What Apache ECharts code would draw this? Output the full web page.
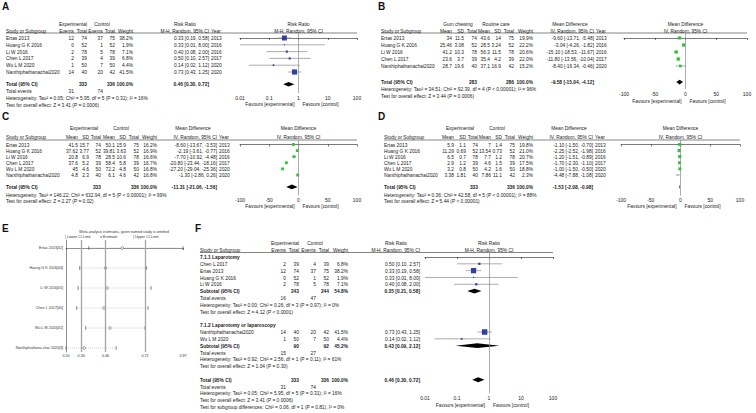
<!DOCTYPE html>
<html><head><meta charset="utf-8">
<script src="https://cdn.jsdelivr.net/npm/echarts@6.0.0/dist/echarts.min.js"></script>
<style>html,body{margin:0;padding:0;background:#fff}#c{width:756px;height:413px}</style>
</head><body><div id="c"></div>
<script>
// ================= DATA =================
// Panel A (risk ratio)
const aStudy = ['Ertas 2013','Huang G K 2016','Li W 2016','Chen L 2017','Wu L M 2020','Nanthiphathanachai2020'];
const aExpEvents = [12,0,2,2,1,14];
const aExpTotal = [74,52,78,39,50,40];
const aCtlEvents = [37,1,5,4,7,20];
const aCtlTotal = [75,52,78,39,50,42];
const aWeight = [38.2,1.9,7.1,6.8,4.4,41.5];
const aRR = [0.33,0.33,0.40,0.50,0.14,0.73];
const aLow = [0.19,0.01,0.08,0.10,0.02,0.43];
const aHigh = [0.58,8.00,2.00,2.57,1.12,1.25];
const aYear = [2013,2016,2016,2017,2020,2020];
const aTotals = [333,336];
const aTotalEvents = [31,74];
const aPooled = [0.46,0.30,0.72];
const aHet = 'Heterogeneity: Tau² = 0.05; Chi² = 5.95, df = 5 (P = 0.31); I² = 16%';
const aTest = 'Test for overall effect: Z = 3.41 (P = 0.0006)';
const rrTicks = ['0.01','0.1','1','10','100'];

// Panel B (mean difference, gum chewing vs routine care)
const bStudy = ['Ertas 2013','Huang G K 2016','Li W 2016','Chen L 2017','Nanthiphathanachai2020'];
const bMean1 = [34,25.46,41.2,23.6,28.7];
const bSD1 = [11.5,3.08,10.3,3.7,19.6];
const bN1 = [74,52,78,39,40];
const bMean2 = [43.6,28.5,56.3,35.4,37.1];
const bSD2 = [14,3.24,11.5,4.2,16.9];
const bN2 = [75,52,78,39,42];
const bWeight = [19.9,22.2,20.6,22.0,15.2];
const bMD = [-9.60,-3.04,-15.10,-11.80,-8.40];
const bLow = [-13.71,-4.26,-18.53,-13.56,-16.34];
const bHigh = [-5.48,-1.82,-11.67,-10.04,-0.46];
const bYear = [2013,2016,2016,2017,2020];
const bTotals = [283,286];
const bPooled = [-9.58,-15.04,-4.12];
const bHet = 'Heterogeneity: Tau² = 34.51; Chi² = 92.39, df = 4 (P < 0.00001); I² = 96%';
const bTest = 'Test for overall effect: Z = 3.44 (P = 0.0006)';
const mdTicks = ['-100','-50','0','50','100'];

// Panel C
const cMean1 = [41.5,37.62,20.8,37.6,45,4.8];
const cSD1 = [15.7,3.77,6.9,5.2,4.6,2.3];
const cN1 = [74,52,78,39,50,40];
const cMean2 = [50.1,39.81,28.5,58.4,72.2,6.1];
const cSD2 = [15.9,3.63,10.6,5.8,4.8,4.6];
const cN2 = [75,52,78,39,50,42];
const cWeight = [16.2,16.9,16.6,16.7,16.8,16.8];
const cMD = [-8.60,-2.19,-7.70,-20.80,-27.20,-1.30];
const cLow = [-13.67,-3.61,-10.92,-23.44,-29.04,-2.86];
const cHigh = [-3.53,-0.77,-4.48,-18.16,-25.36,0.26];
const cTotals = [333,336];
const cPooled = [-11.31,-21.06,-1.56];
const cHet = 'Heterogeneity: Tau² = 146.22; Chi² = 632.94, df = 5 (P < 0.00001); I² = 99%';
const cTest = 'Test for overall effect: Z = 2.27 (P = 0.02)';

// Panel D
const dMean1 = [5.9,11.29,6.5,2.9,3.2,3.38];
const dSD1 = [1.1,0.69,0.7,1.2,0.8,1.81];
const dN1 = [74,52,78,39,50,40];
const dMean2 = [7,13.54,7.7,4.6,4.2,7.86];
const dSD2 = [1.4,0.73,1.2,1.5,1.6,11.1];
const dN2 = [75,52,78,39,50,42];
const dWeight = [19.8,21.0,20.7,17.5,18.8,2.3];
const dMD = [-1.10,-2.25,-1.20,-1.70,-1.00,-4.48];
const dLow = [-1.50,-2.52,-1.51,-2.30,-1.50,-7.88];
const dHigh = [-0.70,-1.98,-0.89,-1.10,-0.50,-1.08];
const dTotals = [333,336];
const dPooled = [-1.53,-2.08,-0.98];
const dHet = 'Heterogeneity: Tau² = 0.36; Chi² = 42.58, df = 5 (P < 0.00001); I² = 88%';
const dTest = 'Test for overall effect: Z = 5.44 (P < 0.00001)';

// Panel E (leave-one-out sensitivity)
const eStudy = ['Ertas 2013[42]','Huang G K 2016[44]','Li W 2016[45]','Chen L 2017[40]','Wu L M 2020[41]','Nanthiphathana-chai 2020[3]'];
const eLow = [0.35,0.29,0.28,0.27,0.33,0.20];
const eEst = [0.57,0.46,0.47,0.45,0.49,0.32];
const eHigh = [0.97,0.73,0.76,0.74,0.72,0.53];
const ePooled = [0.30,0.46,0.72];
const eTicks = [0.20,0.30,0.46,0.72,0.97];

// Panel F (subgroups)
const f1Study = ['Chen L 2017','Ertas 2013','Huang G K 2016','Li W 2016'];
const f1ExpEvents = [2,12,0,2];
const f1ExpTotal = [39,74,52,78];
const f1CtlEvents = [4,37,1,5];
const f1CtlTotal = [39,75,52,78];
const f1Weight = [6.8,38.2,1.9,7.1];
const f1RR = [0.50,0.33,0.33,0.40];
const f1Low = [0.10,0.19,0.01,0.08];
const f1High = [2.57,0.58,8.00,2.00];
const f1Sub = [243,244,54.8];
const f1SubEvents = [16,47];
const f1Pooled = [0.35,0.21,0.58];
const f1Het = 'Heterogeneity: Tau² = 0.00; Chi² = 0.26, df = 3 (P = 0.97); I² = 0%';
const f1Test = 'Test for overall effect: Z = 4.12 (P < 0.0001)';
const f2Study = ['Nanthiphathanachai2020','Wu L M 2020'];
const f2ExpEvents = [14,1];
const f2ExpTotal = [40,50];
const f2CtlEvents = [20,7];
const f2CtlTotal = [42,50];
const f2Weight = [41.5,4.4];
const f2RR = [0.73,0.14];
const f2Low = [0.43,0.02];
const f2High = [1.25,1.12];
const f2Sub = [90,92,45.2];
const f2SubEvents = [15,27];
const f2Pooled = [0.43,0.09,2.12];
const f2Het = 'Heterogeneity: Tau² = 0.92; Chi² = 2.56, df = 1 (P = 0.11); I² = 61%';
const f2Test = 'Test for overall effect: Z = 1.04 (P = 0.30)';
const fTotals = [333,336];
const fTotalEvents = [31,74];
const fPooled = [0.46,0.30,0.72];
const fHet = 'Heterogeneity: Tau² = 0.05; Chi² = 5.95, df = 5 (P = 0.31); I² = 16%';
const fTest = 'Test for overall effect: Z = 3.41 (P = 0.0006)';
const fSubTest = 'Test for subgroup differences: Chi² = 0.06, df = 1 (P = 0.81), I² = 0%';

// ================= STYLE / LAYOUT =================
const FF = '"Liberation Sans", Arial, Helvetica, sans-serif';
const FS = 5.2, SX = 0.93, INK = '#1a1a1a', GREY = '#8a8a8a';
const BLUE = '#2f3fa6', GREEN = '#2fc23a';
const G = [];
function txt(x, y, s, o) {
  o = o || {};
  const al = o.align || 'left';
  G.push({type:'text', x:x, y:y, scaleX:(o.sx == null ? SX : o.sx), silent:true, z:20,
    style:{text:String(s), fill:o.color || INK, fontSize:o.size || FS, fontFamily:FF,
      fontWeight:o.bold ? 'bold' : 'normal', align:al, verticalAlign:'middle',
      textAlign:al, textVerticalAlign:'middle'}});
}
function hl(x1, x2, y, w, c) {
  G.push({type:'line', silent:true, z:5, shape:{x1:x1, y1:y, x2:x2, y2:y}, style:{stroke:c || '#333', lineWidth:w || 0.6}});
}
const f2 = v => v.toFixed(2);
const ciStr = (e, l, h) => f2(e) + ' [' + f2(l) + ', ' + f2(h) + ']';
const pct = v => v.toFixed(1) + '%';

const option = {animation:false, backgroundColor:'#fff', grid:[], xAxis:[], yAxis:[], series:[], graphic:{elements:G}};

function addForestGrid(L, xType) {
  const gi = option.grid.length;
  option.grid.push({left:L.plotL, top:L.lineY, width:L.plotW, height:L.axisY - L.lineY});
  const common = {gridIndex:gi, splitLine:{show:false},
    axisLine:{show:true, lineStyle:{color:'#222', width:0.6}},
    axisTick:{show:true, length:2, lineStyle:{color:'#222', width:0.6}},
    axisLabel:{fontSize:5, color:'#222', margin:L.labMargin || 2, fontFamily:FF}};
  if (xType === 'log') {
    option.xAxis.push(Object.assign({}, common, {type:'log', logBase:10, min:0.01, max:100,
      minorTick:{show:false},
      axisLabel:Object.assign({}, common.axisLabel, {formatter:v => rrTicks[Math.round(Math.log10(v)) + 2]})}));
  } else {
    option.xAxis.push(Object.assign({}, common, {type:'value', min:-100, max:100, interval:50,
      axisLabel:Object.assign({}, common.axisLabel, {formatter:v => mdTicks[Math.round(v / 50) + 2]})}));
  }
  option.yAxis.push({gridIndex:gi, type:'value', inverse:true, show:false,
    min:(L.lineY - L.y0) / L.step, max:(L.axisY - L.y0) / L.step});
  return gi;
}
function studySeries(gi, data, color, k, xmin, xmax, nullVal) {
  option.series.push({type:'custom', xAxisIndex:gi, yAxisIndex:gi, data:data, clip:false, silent:true,
    renderItem:function (p, api) {
      const r = api.value(3);
      const a = api.coord([Math.max(api.value(1), xmin), r]);
      const b = api.coord([Math.min(api.value(2), xmax), r]);
      const c = api.coord([api.value(0), r]);
      const s = Math.max(1, k * Math.sqrt(api.value(4)));
      return {type:'group', children:[
        {type:'line', shape:{x1:a[0], y1:a[1], x2:b[0], y2:b[1]}, style:{stroke:GREY, lineWidth:0.7}},
        {type:'rect', shape:{x:c[0] - s / 2, y:c[1] - s / 2, width:s, height:s}, style:{fill:color}}
      ]};
    },
    markLine:{silent:true, symbol:['none','none'], label:{show:false}, animation:false,
      lineStyle:{color:GREY, width:0.7, type:'solid'}, data:[{xAxis:nullVal}]}
  });
}
function diamondSeries(gi, data, h) {
  option.series.push({type:'custom', xAxisIndex:gi, yAxisIndex:gi, data:data, clip:false, silent:true,
    renderItem:function (p, api) {
      const r = api.value(3);
      const a = api.coord([api.value(1), r]), b = api.coord([api.value(2), r]), c = api.coord([api.value(0), r]);
      return {type:'polygon', shape:{points:[[a[0], c[1]], [c[0], c[1] - h], [b[0], c[1]], [c[0], c[1] + h]]}, style:{fill:'#000'}};
    }});
}
function plotHeaders(L, t1, t2, expLabel, ctlLabel) {
  const Y = r => L.y0 + r * L.step;
  const mid = L.plotL + L.plotW / 2;
  txt(mid, Y(L.rowHdr), t1, {align:'center'});
  txt(mid, Y(L.rowSub), t2, {align:'center'});
  hl(L.x0, L.plotL + L.plotW, L.lineY, 0.6);
  txt(mid - 4, L.axisY + L.favGap, expLabel, {align:'right'});
  txt(mid + 4, L.axisY + L.favGap, ctlLabel, {align:'left'});
}

// ---------- Panel letters
[['A',2,6],['B',378,6],['C',2,116],['D',378,116],['E',2,228],['F',195,228]].forEach(p => {
  txt(p[1], p[2], p[0], {size:10, bold:true, sx:1, color:'#111'});
});

// ---------- Panel A
const LA = {x0:6, y0:38, step:6.8, cEv:74, cN:87, cEv2:103, cN2:115, cW:133, cCI:209, cYr:211,
  hEx:73, hCt:102, hCI:185, rowHdr:-2.06, rowSub:-1.1, rowTotal:6.8, rowTE:7.8, rowHet:8.8, rowTest:9.8,
  lineY:33, axisY:93, plotL:240, plotW:117, favGap:10.5};
(function () {
  const L = LA, Y = r => L.y0 + r * L.step;
  txt(L.hEx, Y(L.rowHdr), 'Experimental', {align:'center'});
  txt(L.hCt, Y(L.rowHdr), 'Control', {align:'center'});
  txt(L.hCI, Y(L.rowHdr), 'Risk Ratio', {align:'center'});
  const sub = [['Study or Subgroup',L.x0,'left'],['Events',L.cEv,'right'],['Total',L.cN,'right'],['Events',L.cEv2,'right'],
    ['Total',L.cN2,'right'],['Weight',L.cW,'right'],['M-H, Random, 95% CI',L.cCI,'right'],['Year',L.cYr,'left']];
  sub.forEach(s => txt(s[1], Y(L.rowSub), s[0], {align:s[2]}));
  aStudy.forEach((n, i) => {
    const y = Y(i);
    txt(L.x0, y, n);
    txt(L.cEv, y, aExpEvents[i], {align:'right'});
    txt(L.cN, y, aExpTotal[i], {align:'right'});
    txt(L.cEv2, y, aCtlEvents[i], {align:'right'});
    txt(L.cN2, y, aCtlTotal[i], {align:'right'});
    txt(L.cW, y, pct(aWeight[i]), {align:'right'});
    txt(L.cCI, y, ciStr(aRR[i], aLow[i], aHigh[i]), {align:'right'});
    txt(L.cYr, y, aYear[i]);
  });
  const yt = Y(L.rowTotal);
  txt(L.x0, yt, 'Total (95% CI)', {bold:true});
  txt(L.cN, yt, aTotals[0], {align:'right', bold:true});
  txt(L.cN2, yt, aTotals[1], {align:'right', bold:true});
  txt(L.cW, yt, '100.0%', {align:'right', bold:true});
  txt(L.cCI, yt, ciStr(aPooled[0], aPooled[1], aPooled[2]), {align:'right', bold:true});
  txt(L.x0, Y(L.rowTE), 'Total events');
  txt(L.cEv, Y(L.rowTE), aTotalEvents[0], {align:'right'});
  txt(L.cEv2, Y(L.rowTE), aTotalEvents[1], {align:'right'});
  txt(L.x0, Y(L.rowHet), aHet);
  txt(L.x0, Y(L.rowTest), aTest);
  plotHeaders(L, 'Risk Ratio', 'M-H, Random, 95% CI', 'Favours [experimental]', 'Favours [control]');
  const gi = addForestGrid(L, 'log');
  studySeries(gi, aRR.map((v, i) => [v, aLow[i], aHigh[i], i, aWeight[i]]), BLUE, 0.8, 0.01, 100, 1);
  diamondSeries(gi, [[aPooled[0], aPooled[1], aPooled[2], L.rowTotal]], 2.3);
})();

// ---------- continuous panels (B, C, D)
function contPanel(L, study, m1, s1, n1, m2, s2, n2, w, md, lo, hi, yr, totals, pooled, het, test, hdr) {
  const Y = r => L.y0 + r * L.step;
  txt(L.hEx, Y(L.rowHdr), hdr[0], {align:'center'});
  txt(L.hCt, Y(L.rowHdr), hdr[1], {align:'center'});
  txt(L.hCI, Y(L.rowHdr), 'Mean Difference', {align:'center'});
  const sub = [['Study or Subgroup',L.x0,'left'],['Mean',L.cM,'right'],['SD',L.cS,'right'],['Total',L.cN,'right'],
    ['Mean',L.cM2,'right'],['SD',L.cS2,'right'],['Total',L.cN2,'right'],['Weight',L.cW,'right'],
    ['IV, Random, 95% CI',L.cCI,'right'],['Year',L.cYr,'left']];
  sub.forEach(s => txt(s[1], Y(L.rowSub), s[0], {align:s[2]}));
  study.forEach((n, i) => {
    const y = Y(i);
    txt(L.x0, y, n);
    txt(L.cM, y, m1[i], {align:'right'});
    txt(L.cS, y, s1[i], {align:'right'});
    txt(L.cN, y, n1[i], {align:'right'});
    txt(L.cM2, y, m2[i], {align:'right'});
    txt(L.cS2, y, s2[i], {align:'right'});
    txt(L.cN2, y, n2[i], {align:'right'});
    txt(L.cW, y, pct(w[i]), {align:'right'});
    txt(L.cCI, y, ciStr(md[i], lo[i], hi[i]), {align:'right'});
    txt(L.cYr, y, yr[i]);
  });
  const yt = Y(L.rowTotal);
  txt(L.x0, yt, 'Total (95% CI)', {bold:true});
  txt(L.cN, yt, totals[0], {align:'right', bold:true});
  txt(L.cN2, yt, totals[1], {align:'right', bold:true});
  txt(L.cW, yt, '100.0%', {align:'right', bold:true});
  txt(L.cCI, yt, ciStr(pooled[0], pooled[1], pooled[2]), {align:'right', bold:true});
  txt(L.x0, Y(L.rowHet), het);
  txt(L.x0, Y(L.rowTest), test);
  plotHeaders(L, 'Mean Difference', 'IV, Random, 95% CI', 'Favours [experimental]', 'Favours [control]');
  const gi = addForestGrid(L, 'value');
  studySeries(gi, md.map((v, i) => [v, lo[i], hi[i], i, w[i]]), GREEN, 0.7, -100, 100, 0);
  diamondSeries(gi, [[pooled[0], pooled[1], pooled[2], L.rowTotal]], 2.3);
}
const LB = {x0:381, y0:38, step:7, cM:452, cS:464, cN:477, cM2:490, cS2:501, cN2:514, cW:533, cCI:594, cYr:596,
  hEx:458, hCt:496, hCI:570, rowHdr:-2, rowSub:-1.07, rowTotal:6.3, rowHet:7.3, rowTest:8.3,
  lineY:33, axisY:89, plotL:624, plotW:123, favGap:11.5, labMargin:2.5};
contPanel(LB, bStudy, bMean1, bSD1, bN1, bMean2, bSD2, bN2, bWeight, bMD, bLow, bHigh, bYear, bTotals, bPooled, bHet, bTest, ['Gum chewing','Routine care']);
const LC = {x0:6, y0:144.5, step:6.1, cM:78, cS:89, cN:101, cM2:115, cS2:126, cN2:139, cW:157, cCI:217, cYr:219,
  hEx:84, hCt:121, hCI:193, rowHdr:-2.7, rowSub:-1.2, rowTotal:6.95, rowHet:8.2, rowTest:9.3,
  lineY:140, axisY:195.5, plotL:240, plotW:117, favGap:10.5};
contPanel(LC, aStudy, cMean1, cSD1, cN1, cMean2, cSD2, cN2, cWeight, cMD, cLow, cHigh, aYear, cTotals, cPooled, cHet, cTest, ['Experimental','Control']);
const LD = {x0:384, y0:144.5, step:6.1, cM:454, cS:466, cN:478, cM2:491, cS2:502, cN2:515, cW:533, cCI:593, cYr:595,
  hEx:460, hCt:497, hCI:569, rowHdr:-2.7, rowSub:-1.2, rowTotal:6.95, rowHet:8.2, rowTest:9.3,
  lineY:140, axisY:195.5, plotL:621, plotW:119, favGap:10.5};
contPanel(LD, aStudy, dMean1, dSD1, dN1, dMean2, dSD2, dN2, dWeight, dMD, dLow, dHigh, aYear, dTotals, dPooled, dHet, dTest, ['Experimental','Control']);

// ---------- Panel E
(function () {
  const ES = 3.7;
  txt(124, 232, 'Meta-analysis estimates, given named study is omitted', {align:'center', size:ES, sx:1, color:'#333'});
  txt(65, 237, '| Lower CI Limit', {size:ES, sx:1, color:'#333'});
  txt(100, 237, 'o Estimate', {size:ES, sx:1, color:'#333'});
  txt(133, 237, '| Upper CI Limit', {size:ES, sx:1, color:'#333'});
  const gi = option.grid.length;
  option.grid.push({left:66, top:240, width:117, height:112});
  option.xAxis.push({gridIndex:gi, type:'value', min:eTicks[0], max:eTicks[eTicks.length - 1], splitLine:{show:false},
    axisLine:{show:true, lineStyle:{color:'#444', width:0.6}},
    axisTick:{show:true, length:2, customValues:eTicks, lineStyle:{color:'#444', width:0.6}},
    axisLabel:{customValues:eTicks, formatter:v => v.toFixed(2), fontSize:ES, color:'#333', margin:2, fontFamily:FF}});
  option.yAxis.push({gridIndex:gi, type:'value', inverse:true, min:-0.4, max:5.2, splitLine:{show:false},
    axisLine:{show:true, lineStyle:{color:'#444', width:0.6}}, axisTick:{show:false},
    axisLabel:{customValues:eStudy.map((s, i) => i), formatter:v => eStudy[v], fontSize:ES, color:'#333', margin:3, fontFamily:FF}});
  option.series.push({type:'custom', xAxisIndex:gi, yAxisIndex:gi, clip:false, silent:true,
    data:eEst.map((v, i) => [v, eLow[i], eHigh[i], i]),
    renderItem:function (p, api) {
      const r = api.value(3);
      const lo = api.coord([api.value(1), r]), hi = api.coord([api.value(2), r]), e = api.coord([api.value(0), r]);
      return {type:'group', children:[
        {type:'line', shape:{x1:lo[0], y1:lo[1], x2:hi[0], y2:hi[1]}, style:{stroke:'#a0a0a0', lineWidth:0.5, lineDash:[1,1]}},
        {type:'line', shape:{x1:lo[0], y1:lo[1] - 1.8, x2:lo[0], y2:lo[1] + 1.8}, style:{stroke:'#333', lineWidth:0.6}},
        {type:'line', shape:{x1:hi[0], y1:hi[1] - 1.8, x2:hi[0], y2:hi[1] + 1.8}, style:{stroke:'#333', lineWidth:0.6}},
        {type:'circle', shape:{cx:e[0], cy:e[1], r:1.3}, style:{stroke:'#333', fill:'#fff', lineWidth:0.5}}
      ]};
    },
    markLine:{silent:true, symbol:['none','none'], label:{show:false}, animation:false,
      lineStyle:{color:'#a5a5a5', width:1.3, type:'solid'}, data:ePooled.map(v => ({xAxis:v}))}
  });
})();

// ---------- Panel F
const LF = {x0:200, y0:257, step:6.82, cEv:286, cN:299, cEv2:316, cN2:329, cW:348, cCI:420,
  hEx:285, hCt:315, hCI:396, rowHdr:-2, rowSub:-1, lineY:252.5, axisY:393, plotL:425, plotW:128, favGap:12,
  rows1:[1,2,3,4], rows2:[11,12], head1:0, sub1:5, te1:6, het1:7, test1:8, head2:10, sub2:13, te2:14, het2:15, test2:16,
  tot:18, te:19, het:20, test:21, subTest:22};
(function () {
  const L = LF, Y = r => L.y0 + r * L.step;
  txt(L.hEx, Y(L.rowHdr), 'Experimental', {align:'center'});
  txt(L.hCt, Y(L.rowHdr), 'Control', {align:'center'});
  txt(L.hCI, Y(L.rowHdr), 'Risk Ratio', {align:'center'});
  const sub = [['Study or Subgroup',L.x0,'left'],['Events',L.cEv,'right'],['Total',L.cN,'right'],['Events',L.cEv2,'right'],
    ['Total',L.cN2,'right'],['Weight',L.cW,'right'],['M-H, Random, 95% CI',L.cCI,'right']];
  sub.forEach(s => txt(s[1], Y(L.rowSub), s[0], {align:s[2]}));
  function studyRows(rows, st, e1, n1, e2, n2, w, rr, lo, hi) {
    st.forEach((n, i) => {
      const y = Y(rows[i]);
      txt(L.x0, y, n);
      txt(L.cEv, y, e1[i], {align:'right'});
      txt(L.cN, y, n1[i], {align:'right'});
      txt(L.cEv2, y, e2[i], {align:'right'});
      txt(L.cN2, y, n2[i], {align:'right'});
      txt(L.cW, y, pct(w[i]), {align:'right'});
      txt(L.cCI, y, ciStr(rr[i], lo[i], hi[i]), {align:'right'});
    });
  }
  function summary(r, label, tot, w, pooled) {
    const y = Y(r);
    txt(L.x0, y, label, {bold:true});
    txt(L.cN, y, tot[0], {align:'right', bold:true});
    txt(L.cN2, y, tot[1], {align:'right', bold:true});
    txt(L.cW, y, pct(w), {align:'right', bold:true});
    txt(L.cCI, y, ciStr(pooled[0], pooled[1], pooled[2]), {align:'right', bold:true});
  }
  function events(r, ev) {
    txt(L.x0, Y(r), 'Total events');
    txt(L.cEv, Y(r), ev[0], {align:'right'});
    txt(L.cEv2, Y(r), ev[1], {align:'right'});
  }
  txt(L.x0, Y(L.head1), '7.1.1 Laparotomy', {bold:true});
  studyRows(L.rows1, f1Study, f1ExpEvents, f1ExpTotal, f1CtlEvents, f1CtlTotal, f1Weight, f1RR, f1Low, f1High);
  summary(L.sub1, 'Subtotal (95% CI)', f1Sub, f1Sub[2], f1Pooled);
  events(L.te1, f1SubEvents);
  txt(L.x0, Y(L.het1), f1Het);
  txt(L.x0, Y(L.test1), f1Test);
  txt(L.x0, Y(L.head2), '7.1.2 Laparotomy or laparoscopy', {bold:true});
  studyRows(L.rows2, f2Study, f2ExpEvents, f2ExpTotal, f2CtlEvents, f2CtlTotal, f2Weight, f2RR, f2Low, f2High);
  summary(L.sub2, 'Subtotal (95% CI)', f2Sub, f2Sub[2], f2Pooled);
  events(L.te2, f2SubEvents);
  txt(L.x0, Y(L.het2), f2Het);
  txt(L.x0, Y(L.test2), f2Test);
  summary(L.tot, 'Total (95% CI)', fTotals, 100, fPooled);
  events(L.te, fTotalEvents);
  txt(L.x0, Y(L.het), fHet);
  txt(L.x0, Y(L.test), fTest);
  txt(L.x0, Y(L.subTest), fSubTest);
  plotHeaders(L, 'Risk Ratio', 'M-H, Random, 95% CI', 'Favours [experimental]', 'Favours [control]');
  const gi = addForestGrid(L, 'log');
  const data = f1RR.map((v, i) => [v, f1Low[i], f1High[i], L.rows1[i], f1Weight[i]])
    .concat(f2RR.map((v, i) => [v, f2Low[i], f2High[i], L.rows2[i], f2Weight[i]]));
  studySeries(gi, data, BLUE, 0.85, 0.01, 100, 1);
  diamondSeries(gi, [[f1Pooled[0], f1Pooled[1], f1Pooled[2], L.sub1], [f2Pooled[0], f2Pooled[1], f2Pooled[2], L.sub2], [fPooled[0], fPooled[1], fPooled[2], L.tot]], 2.4);
})();

const chart = echarts.init(document.getElementById('c'), null, {renderer:'svg', width:756, height:413});
chart.setOption(option);
</script>
</body></html>
